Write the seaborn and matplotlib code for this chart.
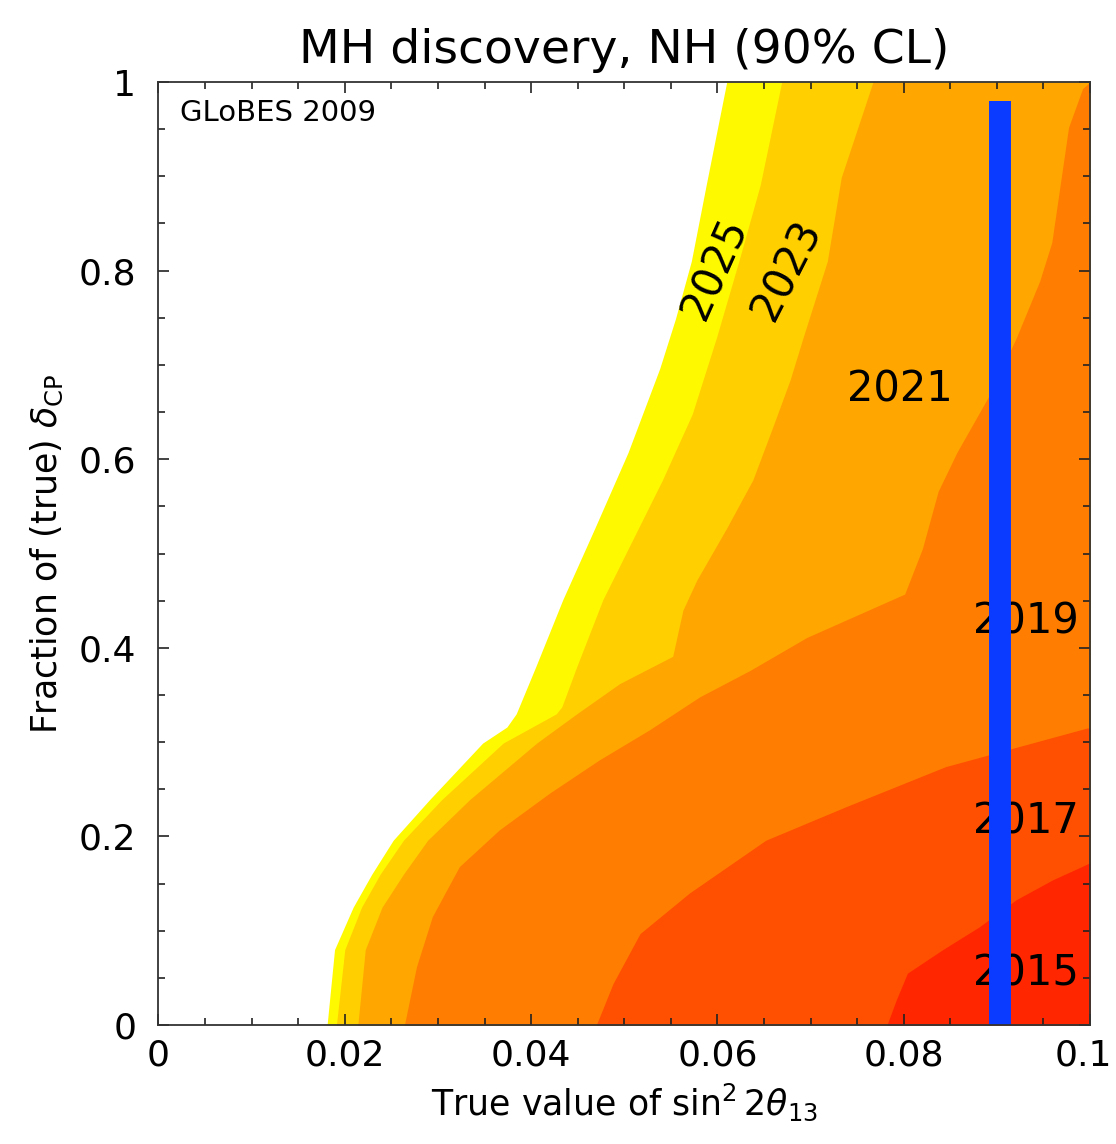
import numpy as np
import matplotlib
matplotlib.use("Agg")
import matplotlib.pyplot as plt
import matplotlib.transforms as mtransforms
from matplotlib.ticker import MultipleLocator, FuncFormatter
import seaborn as sns

# Boundary curves of the discovery-reach regions: fraction of delta_CP (y) vs sin^2 2theta13 (x)
y_2025 = [0, 0.08, 0.125, 0.16, 0.196, 0.239, 0.299, 0.316, 0.33, 0.38, 0.451, 0.526, 0.607, 0.696, 0.749, 0.81, 0.891, 1.0]
x_2025 = [0.0181, 0.0189, 0.0209, 0.0229, 0.0252, 0.0291, 0.0348, 0.0374, 0.0384, 0.0405, 0.0434, 0.0468, 0.0504, 0.0538, 0.0555, 0.0572, 0.0588, 0.0610]

y_2023 = [0, 0.08, 0.125, 0.16, 0.196, 0.239, 0.299, 0.33, 0.3375, 0.38, 0.451, 0.578, 0.648, 0.729, 0.81, 0.891, 1.0]
x_2023 = [0.0191, 0.0200, 0.0218, 0.0238, 0.0263, 0.0304, 0.0370, 0.0427, 0.0433, 0.0449, 0.0477, 0.0541, 0.0573, 0.0599, 0.0623, 0.0646, 0.0669]

y_2021 = [0, 0.08, 0.125, 0.16, 0.196, 0.239, 0.299, 0.33, 0.362, 0.391, 0.44, 0.472, 0.527, 0.578, 0.633, 0.684, 0.729, 0.81, 0.899, 1.0]
x_2021 = [0.0214, 0.0222, 0.0240, 0.0263, 0.0289, 0.0334, 0.0406, 0.0449, 0.0495, 0.0552, 0.0563, 0.0578, 0.0610, 0.0638, 0.0659, 0.0678, 0.0692, 0.0718, 0.0733, 0.0767]

y_2019 = [0, 0.062, 0.115, 0.168, 0.207, 0.246, 0.281, 0.313, 0.348, 0.376, 0.411, 0.457, 0.505, 0.566, 0.607, 0.668, 0.729, 0.789, 0.830, 0.891, 0.952, 0.993, 1.0]
x_2019 = [0.0264, 0.0277, 0.0294, 0.0323, 0.0366, 0.0420, 0.0473, 0.0527, 0.0581, 0.0635, 0.0696, 0.0801, 0.0820, 0.0837, 0.0857, 0.0892, 0.0921, 0.0946, 0.0959, 0.0968, 0.0977, 0.0992, 0.1]

y_2017 = [0, 0.044, 0.097, 0.140, 0.196, 0.2315, 0.274, 0.315]
x_2017 = [0.0470, 0.0488, 0.0517, 0.0570, 0.0652, 0.0738, 0.0845, 0.0997]

y_2015 = [0, 0.0265, 0.055, 0.080, 0.104, 0.133, 0.154, 0.172]
x_2015 = [0.0782, 0.0792, 0.0804, 0.0842, 0.0881, 0.0921, 0.0960, 0.1]

years = ["2025", "2023", "2021", "2019", "2017", "2015"]
region_colors = ["#FFF900", "#FFCF00", "#FFA600", "#FF7D00", "#FF4F00", "#FF2600"]

# Year label placement (x, y, rotation)
label_x = [0.0597, 0.0675, 0.0796, 0.0931, 0.0931, 0.0931]
label_y = [0.802, 0.800, 0.674, 0.428, 0.2156, 0.0548]
label_rot = [66, 63, 0, 0, 0, 0]

# Reference value of sin^2 2theta13
ref_x = 0.0903
ref_y_top = 0.98

x_tick_values = [0, 0.02, 0.04, 0.06, 0.08, 0.1]

sns.set_theme(style="ticks")
plt.rcParams["font.family"] = ["DejaVu Sans"]
plt.rcParams["mathtext.fontset"] = "dejavusans"
for key in ["text.color", "axes.labelcolor", "xtick.color", "ytick.color"]:
    plt.rcParams[key] = "black"

fig = plt.figure(figsize=(11.16, 11.44), dpi=100)
ax = fig.add_axes([0.142, 0.104, 0.8347, 0.8243])
ax.set_facecolor("white")
ax.set_axisbelow(False)

curves = [(x_2025, y_2025), (x_2023, y_2023), (x_2021, y_2021),
          (x_2019, y_2019), (x_2017, y_2017), (x_2015, y_2015)]
xmax = 0.1
for i, ((xs, ys), col) in enumerate(zip(curves, region_colors)):
    ax.fill_betweenx(ys, xs, xmax, color=col, linewidth=0, zorder=1 + 0.1 * i)

for yr, lx, ly, rot in zip(years, label_x, label_y, label_rot):
    ax.text(lx, ly, yr, fontsize=30, color="black", ha="center", va="center",
            rotation=rot, rotation_mode="anchor", zorder=3)

ax.vlines(ref_x, 0, ref_y_top, color="#0B3BFF", linewidth=15.8,
          capstyle="butt", zorder=4)

ax.set_xlim(0, 0.1)
ax.set_ylim(0, 1)

ax.xaxis.set_major_locator(MultipleLocator(0.02))
ax.xaxis.set_minor_locator(MultipleLocator(0.005))
ax.yaxis.set_major_locator(MultipleLocator(0.2))
ax.yaxis.set_minor_locator(MultipleLocator(0.05))
last_x = x_tick_values[-1]
# the label at the right end is drawn separately so it stays inside the figure
ax.xaxis.set_major_formatter(FuncFormatter(
    lambda v, p: "" if abs(v - last_x) < 1e-9 else f"{v:g}"))
ax.yaxis.set_major_formatter(FuncFormatter(lambda v, p: f"{v:g}"))

ax.tick_params(which="both", direction="in", top=True, right=True,
               color="#222222", width=1.2)
ax.tick_params(which="major", length=8, labelsize=26)
ax.tick_params(axis="x", which="major", pad=10)
ax.tick_params(axis="y", which="major", pad=16)
ax.tick_params(which="minor", length=5)

end_tr = ax.get_xaxis_transform() + mtransforms.ScaledTranslation(
    -5 / 72, -10 / 72, fig.dpi_scale_trans)
ax.text(last_x, 0, f"{last_x:g}", transform=end_tr, fontsize=26,
        ha="center", va="top", clip_on=False)

for sp in ax.spines.values():
    sp.set_linewidth(1.3)
    sp.set_color("#333333")
    sp.set_zorder(5)

ax.set_title("MH discovery, NH (90% CL)", fontsize=34, pad=14)
ax.set_xlabel(r"True value of $\sin^2 2\theta_{13}$", fontsize=25, labelpad=6)
ax.set_ylabel(r"Fraction of (true) $\delta_{\rm CP}$", fontsize=25, labelpad=10)

ax.text(0.023, 0.967, "GLoBES 2009", transform=ax.transAxes, fontsize=21,
        ha="left", va="center", zorder=6)

fig.savefig("out.png", dpi=100)
